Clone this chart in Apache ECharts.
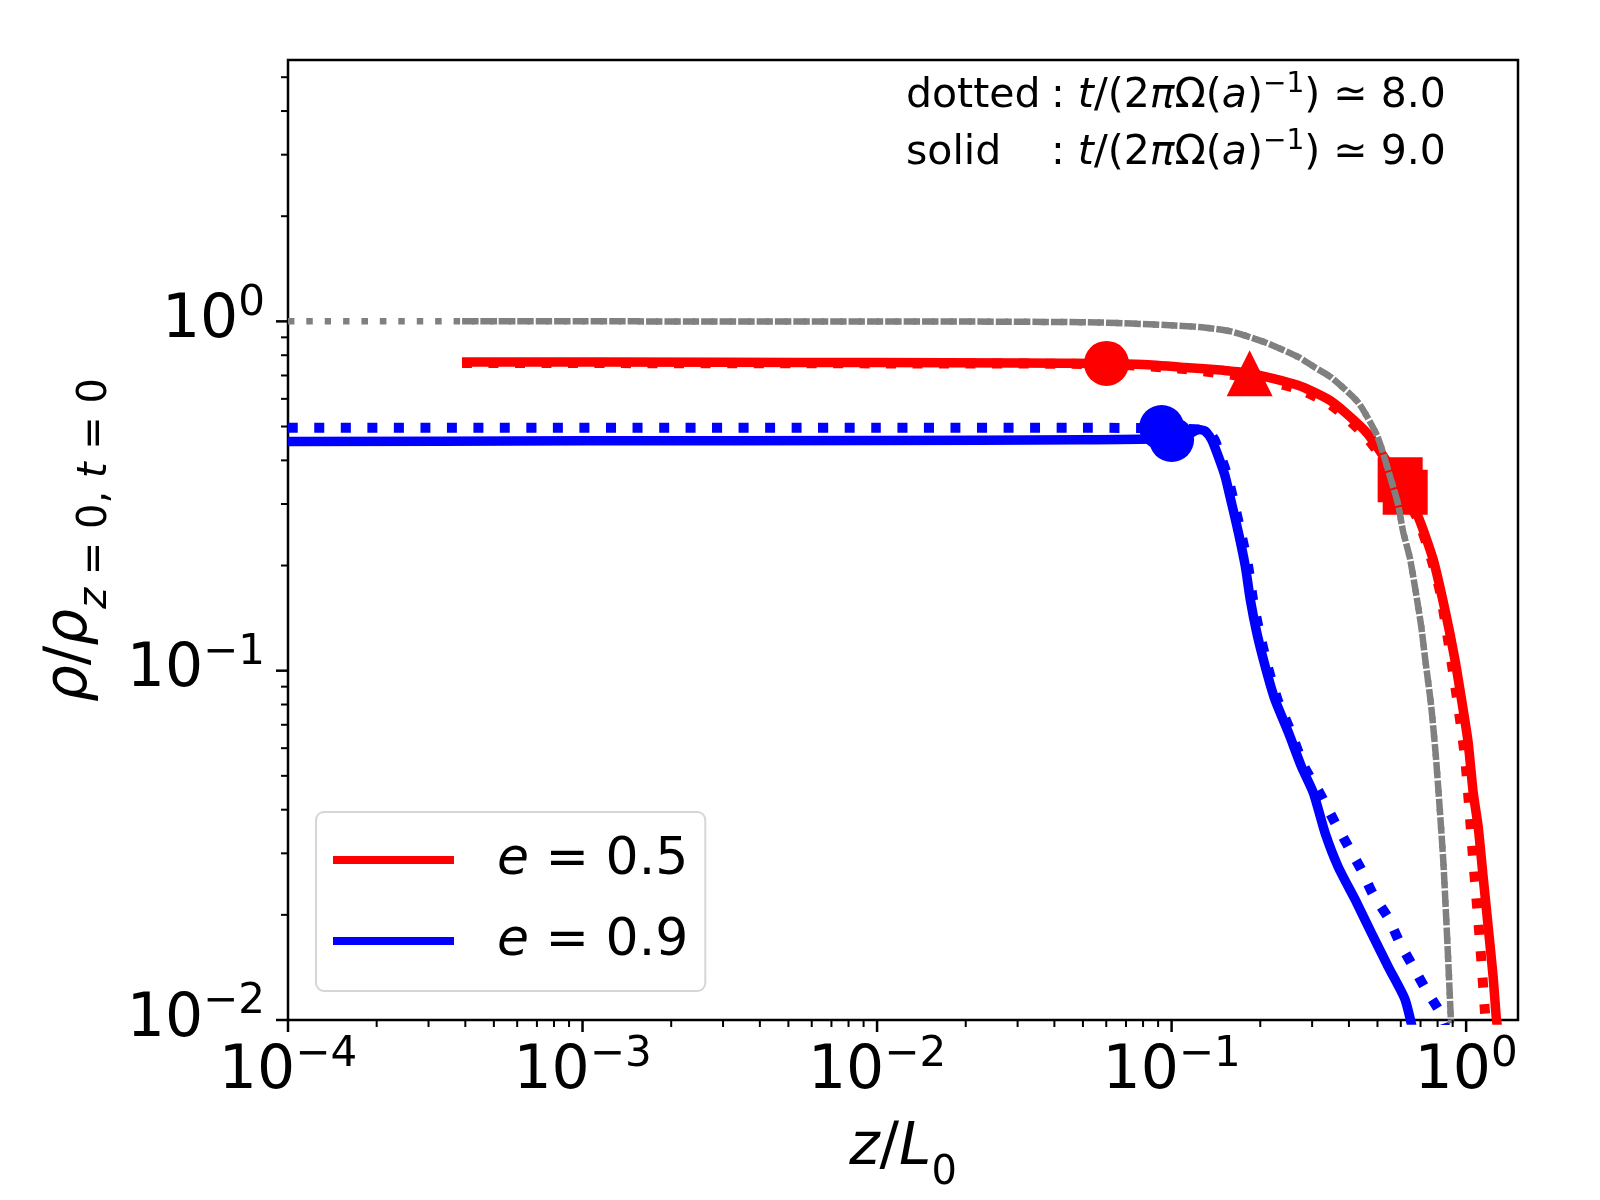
<!DOCTYPE html>
<html><head><meta charset="utf-8">
<script src="https://cdn.jsdelivr.net/npm/echarts@6/dist/echarts.min.js"></script>
<style>html,body{margin:0;padding:0;background:#fff}#c{width:1600px;height:1200px}</style>
</head><body><div id="c"></div>
<script>
const FONT = '"DejaVu Sans", sans-serif';

// ---- data (x = z/L0, y = rho/rho_{z=0,t=0}) ----
const grayInitialA = [[1e-4,1.0],[1e-3,1.0],[0.01,0.999],[0.026,0.998],[0.0565,0.993],[0.0953,0.976],[0.124,0.963],[0.159,0.936],[0.208,0.87],[0.27,0.79],[0.305,0.74],[0.349,0.69],[0.43,0.586],[0.5,0.468],[0.557,0.35],[0.587,0.30],[0.611,0.25],[0.646,0.208],[0.703,0.135],[0.726,0.108],[0.76,0.08],[0.791,0.0556],[0.836,0.0287],[0.869,0.0149],[0.89,0.0095]];
const grayInitialB = [[3.9e-4,1.0],[1e-3,1.0],[0.01,0.999],[0.026,0.998],[0.0565,0.993],[0.0953,0.976],[0.124,0.963],[0.159,0.936],[0.208,0.87],[0.27,0.79],[0.305,0.74],[0.349,0.69],[0.43,0.586],[0.5,0.468],[0.557,0.35],[0.587,0.30],[0.611,0.25],[0.646,0.208],[0.703,0.135],[0.726,0.108],[0.76,0.08],[0.791,0.0556],[0.836,0.0287],[0.869,0.0149],[0.89,0.0095]];

const redSolid = [[3.9e-4,0.765],[0.003,0.764],[0.01,0.762],[0.03,0.76],[0.06,0.757],[0.08,0.752],[0.111,0.738],[0.15,0.724],[0.185,0.71],[0.27,0.655],[0.349,0.59],[0.455,0.485],[0.53,0.405],[0.611,0.33],[0.687,0.276],[0.773,0.208],[0.847,0.1496],[0.916,0.1076],[0.977,0.0773],[1.016,0.0622],[1.057,0.0447],[1.099,0.0357],[1.142,0.0257],[1.188,0.0185],[1.235,0.0133],[1.265,0.0102],[1.28,0.0094]];
const redDotted = [[3.9e-4,0.760],[0.01,0.758],[0.06,0.754],[0.111,0.73],[0.185,0.69],[0.27,0.64],[0.349,0.575],[0.455,0.47],[0.53,0.395],[0.60,0.33],[0.687,0.27],[0.76,0.21],[0.817,0.167],[0.925,0.0865],[0.993,0.0556],[1.057,0.0287],[1.115,0.0166],[1.159,0.0105],[1.17,0.0095]];

const blueSolid = [[1e-4,0.453],[1e-3,0.455],[0.01,0.456],[0.05,0.458],[0.09,0.461],[0.111,0.469],[0.1236,0.49],[0.130,0.485],[0.1367,0.459],[0.144,0.411],[0.152,0.36],[0.1596,0.303],[0.1686,0.2485],[0.178,0.1987],[0.185,0.1597],[0.1946,0.1285],[0.208,0.1027],[0.2244,0.0826],[0.2495,0.0664],[0.276,0.0531],[0.303,0.0447],[0.332,0.0343],[0.368,0.0274],[0.42,0.0221],[0.476,0.0178],[0.544,0.0142],[0.619,0.0115],[0.66,0.0093]];
const blueDotted = [[1e-4,0.496],[0.01,0.496],[0.05,0.496],[0.0925,0.494],[0.113,0.492],[0.126,0.49],[0.133,0.483],[0.14,0.458],[0.147,0.41],[0.155,0.36],[0.163,0.303],[0.172,0.2485],[0.182,0.1987],[0.189,0.1597],[0.199,0.1285],[0.212,0.1027],[0.229,0.0826],[0.255,0.0664],[0.282,0.0531],[0.318,0.0447],[0.359,0.0367],[0.398,0.0314],[0.441,0.0269],[0.484,0.0228],[0.544,0.0196],[0.596,0.0166],[0.661,0.0142],[0.731,0.0122],[0.817,0.0105],[0.85,0.0096]];

const redCircles = [[0.0601,0.758]];
const redTriangles = [[0.184,0.71]];
const redSquares = [[0.597,0.352],[0.621,0.324]];
const blueCircles = [[0.0925,0.497],[0.100,0.459]];

const seriesNames = ['e = 0.5','e = 0.9'];
const annotLabels = ['dotted','solid'];
const annotTimes = ['8.0','9.0'];

// tick values
const xTickMajor = [1e-4,1e-3,1e-2,1e-1,1];
const xTickMinor = [2e-4,3e-4,4e-4,5e-4,6e-4,7e-4,8e-4,9e-4,2e-3,3e-3,4e-3,5e-3,6e-3,7e-3,8e-3,9e-3,0.02,0.03,0.04,0.05,0.06,0.07,0.08,0.09,0.2,0.3,0.4,0.5,0.6,0.7,0.8,0.9];
const yTickMajor = [0.01,0.1,1];
const yTickMinor = [0.02,0.03,0.04,0.05,0.06,0.07,0.08,0.09,0.2,0.3,0.4,0.5,0.6,0.7,0.8,0.9,2,3,4,5];

const X_MIN = 1e-4, X_MAX = 1.5, Y_MIN = 0.01, Y_MAX = 5.6;

function tickSeries(axis) {
  const maj = axis === 'x' ? xTickMajor : yTickMajor;
  const mnr = axis === 'x' ? xTickMinor : yTickMinor;
  const data = [];
  maj.forEach(v => data.push(axis === 'x' ? [v, Y_MIN, 1] : [X_MIN, v, 1]));
  mnr.forEach(v => data.push(axis === 'x' ? [v, Y_MIN, 0] : [X_MIN, v, 0]));
  return {
    type: 'custom', silent: true, clip: false, z: 10, data: data,
    encode: {x: 0, y: 1},
    renderItem: function (params, api) {
      const p = api.coord([api.value(0), api.value(1)]);
      const major = api.value(2) === 1;
      const len = major ? 12 : 7;
      const w = major ? 2.5 : 2;
      if (axis === 'x') return {type: 'line', shape: {x1: p[0], y1: p[1], x2: p[0], y2: p[1] + len}, style: {stroke: '#000', lineWidth: w}};
      return {type: 'line', shape: {x1: p[0], y1: p[1], x2: p[0] - len, y2: p[1]}, style: {stroke: '#000', lineWidth: w}};
    }
  };
}

function lineSeries(name, data, color, width, dash, z) {
  return {
    name: name, type: 'line', data: data, symbol: 'none', showSymbol: false, z: z,
    clip: true, silent: true, smooth: 0.2,
    itemStyle: {color: color},
    lineStyle: {color: color, width: width, type: dash || 'solid', cap: 'butt', join: 'round'}
  };
}
function markerSeries(data, color, symbol, size) {
  return {type: 'scatter', data: data, symbol: symbol, symbolSize: size, z: 3, silent: true,
    itemStyle: {color: color, opacity: 1}};
}

const tickRich = {
  b: {fontSize: 60, lineHeight: 77, verticalAlign: 'middle', fontFamily: FONT, color: '#000'},
  s: {fontSize: 42, lineHeight: 46, verticalAlign: 'top', fontFamily: FONT, color: '#000'}
};
function tickFmt(v) {
  const e = Math.round(Math.log10(v));
  return '{b|10}{s|' + (e < 0 ? '\u2212' : '') + Math.abs(e) + '}';
}
const nameRich = {
  mi: {fontSize: 58, lineHeight: 74, verticalAlign: 'top', fontStyle: 'italic', fontFamily: FONT, color: '#000'},
  m: {fontSize: 58, lineHeight: 74, verticalAlign: 'top', fontFamily: FONT, color: '#000'},
  si: {fontSize: 40, lineHeight: 40, verticalAlign: 'bottom', fontStyle: 'italic', fontFamily: FONT, color: '#000'},
  s: {fontSize: 40, lineHeight: 40, verticalAlign: 'bottom', fontFamily: FONT, color: '#000'}
};
const annRich = {
  r: {fontSize: 41, lineHeight: 50, verticalAlign: 'middle', fontFamily: FONT, fill: '#000', color: '#000'},
  i: {fontSize: 41, lineHeight: 50, verticalAlign: 'middle', fontStyle: 'italic', fontFamily: FONT, fill: '#000', color: '#000'},
  s: {fontSize: 28, lineHeight: 30, verticalAlign: 'top', fontFamily: FONT, fill: '#000', color: '#000'}
};
function formula(t) {
  return '{r|: }{i|t}{r|/(2}{i|\u03c0}{r|\u03a9(}{i|a}{r|)}{s|\u22121}{r|) \u2243 ' + t + '}';
}

const chart = echarts.init(document.getElementById('c'), null, {renderer: 'canvas'});
chart.setOption({
  animation: false,
  backgroundColor: '#fff',
  grid: {left: 288, right: 82, top: 60, bottom: 180, show: true, borderColor: '#000', borderWidth: 2.5, backgroundColor: 'transparent'},
  xAxis: {
    type: 'log', logBase: 10, min: X_MIN, max: X_MAX,
    axisLine: {show: false}, axisTick: {show: false}, splitLine: {show: false}, minorTick: {show: false},
    axisLabel: {margin: 14, formatter: tickFmt, rich: tickRich, showMaxLabel: false, showMinLabel: true},
    name: '{mi|z}{m|/}{mi|L}{s|0}', nameLocation: 'middle', nameGap: 100,
    nameTextStyle: {rich: nameRich, fontFamily: FONT}
  },
  yAxis: {
    type: 'log', logBase: 10, min: Y_MIN, max: Y_MAX,
    axisLine: {show: false}, axisTick: {show: false}, splitLine: {show: false}, minorTick: {show: false},
    axisLabel: {margin: 23, formatter: tickFmt, rich: tickRich, showMaxLabel: false, showMinLabel: true},
    name: '{mi|\u03c1}{m|/}{mi|\u03c1}{si|z}{s| = 0, }{si|t}{s| = 0}', nameLocation: 'middle', nameGap: 172,
    nameTextStyle: {rich: nameRich, fontFamily: FONT}
  },
  legend: {
    show: true, orient: 'vertical', left: 316, top: 812,
    data: seriesNames.map(n => ({name: n, icon: 'rect'})),
    itemWidth: 121, itemHeight: 8, itemGap: 29,
    padding: [22, 17, 24, 17],
    backgroundColor: 'rgba(255,255,255,0.8)', borderColor: '#d6d6d6', borderWidth: 2, borderRadius: 8,
    itemStyle: {borderWidth: 0},
    selectedMode: false,
    formatter: function (n) { return '{i|e}{r| = ' + n.split('= ')[1] + '}'; },
    textStyle: {
      padding: [0, 0, 0, 38],
      rich: {
        i: {fontSize: 52, lineHeight: 66, fontStyle: 'italic', fontFamily: FONT, color: '#000'},
        r: {fontSize: 52, lineHeight: 66, fontFamily: FONT, color: '#000'}
      }
    }
  },
  graphic: [
    {type: 'text', x: 906, y: 96, z: 20, style: {text: annotLabels[0], fontSize: 41, fontFamily: FONT, fill: '#000', verticalAlign: 'middle'}},
    {type: 'text', x: 1051, y: 96, z: 20, style: {text: formula(annotTimes[0]), rich: annRich, fill: '#000', verticalAlign: 'middle'}},
    {type: 'text', x: 906, y: 153, z: 20, style: {text: annotLabels[1], fontSize: 41, fontFamily: FONT, fill: '#000', verticalAlign: 'middle'}},
    {type: 'text', x: 1051, y: 153, z: 20, style: {text: formula(annotTimes[1]), rich: annRich, fill: '#000', verticalAlign: 'middle'}}
  ],
  series: [
    lineSeries('e = 0.5 (t=8)', redDotted, '#ff0000', 10, [10, 16.5], 2),
    lineSeries(seriesNames[0], redSolid, '#ff0000', 9.5, 'solid', 2),
    lineSeries('e = 0.9 (t=8)', blueDotted, '#0000ff', 10, [10, 16.5], 2),
    lineSeries(seriesNames[1], blueSolid, '#0000ff', 9.5, 'solid', 2),
    markerSeries(redCircles, '#ff0000', 'circle', 45),
    markerSeries(redTriangles, '#ff0000', 'triangle', 46),
    markerSeries(redSquares, '#ff0000', 'rect', 45),
    markerSeries(blueCircles, '#0000ff', 'circle', 45),
    lineSeries('initial A', grayInitialA, '#808080', 6.5, [6.5, 11.9], 4),
    lineSeries('initial B', grayInitialB, '#808080', 6.5, [12.4, 6], 4),
    tickSeries('x'),
    tickSeries('y')
  ]
});
</script></body></html>
